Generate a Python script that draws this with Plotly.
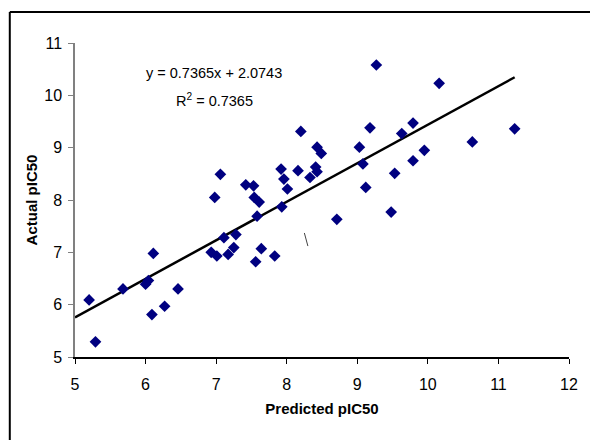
import plotly.graph_objects as go

predicted = [5.20, 5.29, 5.68, 6.00, 6.04, 6.11, 6.09, 6.27, 6.46, 6.98,
             6.93, 7.01, 7.11, 7.17, 7.25, 7.28, 7.54, 7.61, 7.58, 7.56,
             7.64, 7.83, 7.93, 8.01, 8.20, 7.06, 7.42, 7.53, 7.92, 7.96,
             8.16, 8.33, 8.41, 8.43, 8.43, 8.49, 9.27, 10.16, 11.23, 10.63,
             9.18, 9.79, 9.63, 9.03, 9.08, 9.95, 9.79, 9.53, 9.12, 8.71, 9.48]
actual = [6.09, 5.29, 6.30, 6.39, 6.46, 6.98, 5.81, 5.97, 6.30, 8.05,
          7.00, 6.93, 7.28, 6.96, 7.09, 7.34, 8.05, 7.96, 7.69, 6.82,
          7.07, 6.93, 7.87, 8.21, 9.31, 8.49, 8.29, 8.27, 8.59, 8.40,
          8.56, 8.43, 8.63, 8.54, 9.01, 8.89, 10.58, 10.23, 9.36, 9.11,
          9.38, 9.47, 9.27, 9.01, 8.69, 8.95, 8.75, 8.51, 8.24, 7.63, 7.77]

slope = 0.7365
intercept = 2.0743
trend_x = [5.0, 11.23]
trend_y = [slope * v + intercept for v in trend_x]

font = "Liberation Sans, Arial, sans-serif"

fig = go.Figure()
fig.add_trace(go.Scatter(x=trend_x, y=trend_y, mode="lines",
                         line=dict(color="black", width=2.5),
                         hoverinfo="skip", showlegend=False))
fig.add_trace(go.Scatter(x=predicted, y=actual, mode="markers",
                         marker=dict(symbol="diamond", size=9, color="#000080"),
                         showlegend=False))

fig.update_layout(
    width=590, height=440,
    margin=dict(l=75, r=15, t=43, b=83),
    paper_bgcolor="white", plot_bgcolor="white",
    font=dict(family=font, size=15, color="black"),
    xaxis=dict(range=[5, 12], dtick=1, showgrid=False, zeroline=False,
               showline=True, linecolor="black", linewidth=1.5,
               ticks="outside", ticklen=5, tickcolor="black",
               tickfont=dict(family=font, size=16), ticklabelstandoff=7,
               title=dict(text="<b>Predicted pIC50</b>", standoff=12,
                          font=dict(family=font, size=15))),
    yaxis=dict(range=[5, 11], dtick=1, showgrid=False, zeroline=False,
               showline=True, linecolor="#808080", linewidth=1.5,
               ticks="outside", ticklen=5, tickcolor="#808080",
               tickfont=dict(family=font, size=16), ticklabelstandoff=3,
               title=dict(text="<b>Actual pIC50</b>", standoff=3,
                          font=dict(family=font, size=15))),
    annotations=[
        dict(text="y = 0.7365x + 2.0743", x=0.282, y=0.904, xref="paper", yref="paper",
             showarrow=False, xanchor="center", yanchor="middle",
             font=dict(family=font, size=14.5)),
        dict(text="R<sup>2</sup> = 0.7365", x=0.282, y=0.818, xref="paper", yref="paper",
             showarrow=False, xanchor="center", yanchor="middle",
             font=dict(family=font, size=14.5)),
    ],
    shapes=[
        dict(type="line", xref="paper", yref="paper",
             x0=-0.132, x1=1.05, y0=1.0987, y1=1.0987,
             line=dict(color="black", width=2), layer="below"),
        dict(type="line", xref="paper", yref="paper",
             x0=-0.132, x1=-0.132, y0=-0.3, y1=1.0987,
             line=dict(color="black", width=2), layer="below"),
        dict(type="line", xref="x", yref="y", x0=8.25, x1=8.30, y0=7.37, y1=7.12,
             line=dict(color="#444", width=1)),
    ],
)

fig.write_html(
    "out.html",
    config={"displayModeBar": False},
    post_script="document.body.style.margin='0';"
                "document.body.style.overflow='hidden';"
                "document.documentElement.style.overflow='hidden';",
)
